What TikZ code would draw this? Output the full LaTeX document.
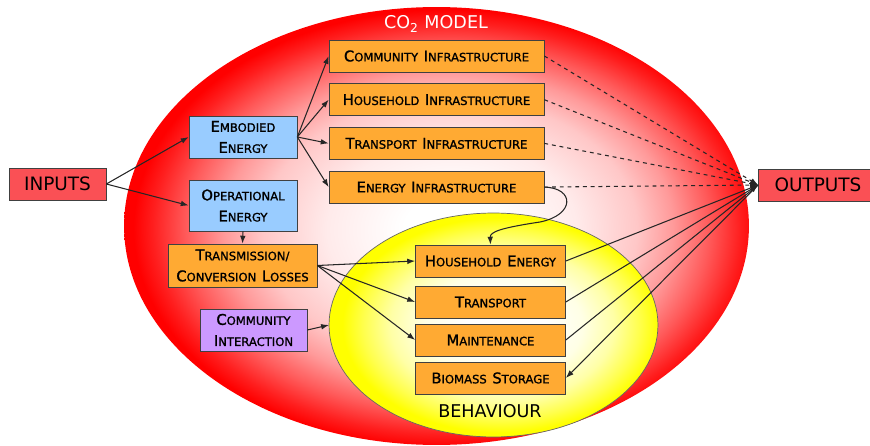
\documentclass[tikz,border=0pt]{standalone}
\usepackage{fontspec}
\setmainfont{DejaVu Sans}
\newfontfamily\boxfont{DejaVu Sans}[FakeBold=1.3]
\usetikzlibrary{shapes, arrows.meta, positioning}
\definecolor{boxorange}{RGB}{255,170,51}
\definecolor{boxblue}{RGB}{153,204,255}
\definecolor{boxpurple}{RGB}{204,153,255}
\definecolor{ioRed}{RGB}{250,80,85}
\newcommand{\scap}[2]{{\boxfont\fontsize{8.4}{9.6}\selectfont #1}{\boxfont\fontsize{6.6}{9.6}\selectfont #2}}
\pgfdeclareradialshading{redglow}{\pgfpoint{1.5bp}{-0.5bp}}{color(0bp)=(white); color(4bp)=(white); color(10bp)=(red!8!white); color(15bp)=(red!22!white); color(18bp)=(red!40!white); color(21bp)=(red!65!white); color(23.5bp)=(red!88!white); color(25bp)=(red); color(50bp)=(red)}
\pgfdeclareradialshading{yellowglow}{\pgfpoint{2bp}{0bp}}{color(0bp)=(white); color(6bp)=(white); color(12bp)=(yellow!10!white); color(17bp)=(yellow!35!white); color(21bp)=(yellow!70!white); color(24bp)=(yellow); color(50bp)=(yellow)}
\tikzstyle{orangebox} = [draw=black!75, fill=boxorange, rectangle, inner sep=0pt, minimum width=4.3cm, minimum height=0.64cm, align=center]
\tikzstyle{behavbox} = [orangebox, minimum width=3cm]
\tikzstyle{energybox} = [draw=black!75, fill=boxblue, rectangle, inner sep=0pt, minimum width=2.16cm, minimum height=0.84cm, align=center]
\tikzstyle{iobox} = [draw=black!75, fill=ioRed, rectangle, inner sep=0pt, minimum height=0.64cm, font=\fontsize{10.5}{12}\selectfont]
\tikzstyle{link} = [draw=black!85, line width=0.6pt, -{Latex[length=4.5pt,width=3.2pt]}]
\tikzstyle{outlink} = [link, dash pattern=on 2.2pt off 2.2pt]

\begin{document}
\begin{tikzpicture}[x=0.02cm, y=-0.02cm]
	\useasboundingbox (0,0) rectangle (870,446);
	\clip (0,0) rectangle (870,446);
	% model and behaviour areas
	\node[ellipse, shade, shading=redglow, outer sep=0pt, minimum width=12.5cm, minimum height=8.76cm] (model) at (436.5,226) {};
	\node[text=white, font=\fontsize{10}{12}\selectfont] (modeltitle) at (436,24) {CO\textsubscript{2} MODEL};
	\node[ellipse, draw=black!60, shade, shading=yellowglow, outer sep=0pt, minimum width=6.58cm, minimum height=4.48cm] (behav) at (493.5,325) {};
	\node[font=\fontsize{10}{12}\selectfont] (behavtitle) at (490,411) {BEHAVIOUR};

	\node[iobox, minimum width=1.94cm] (inputs) at (57.5,184) {INPUTS};
	\node[iobox, minimum width=2.38cm] (outputs) at (818,185) {OUTPUTS};

	\node[energybox] (embodied) at (243,137) {\scap{E}{MBODIED}\\\scap{E}{NERGY}};
	\node[energybox, minimum height=1.02cm] (operational) at (243,205.5) {\scap{O}{PERATIONAL}\\\scap{E}{NERGY}};
	\node[orangebox, minimum width=2.98cm, minimum height=0.86cm] (losses) at (242.5,265.5) {\scap{T}{RANSMISSION/}\\\scap{C}{ONVERSION} \scap{L}{OSSES}};
	\node[energybox, fill=boxpurple, minimum width=2.14cm] (interaction) at (253.5,330) {\scap{C}{OMMUNITY}\\\scap{I}{NTERACTION}};

	\node[orangebox] (cominfra) at (436.5,56) {\scap{C}{OMMUNITY} \scap{I}{NFRASTRUCTURE}};
	\node[orangebox, below=0.22cm of cominfra] (houseinfra) {\scap{H}{OUSEHOLD} \scap{I}{NFRASTRUCTURE}};
	\node[orangebox, below=0.22cm of houseinfra] (transinfra) {\scap{T}{RANSPORT} \scap{I}{NFRASTRUCTURE}};
	\node[orangebox, below=0.22cm of transinfra] (energyinfra) {\scap{E}{NERGY}\ \scap{I}{NFRASTRUCTURE}};

	\node[behavbox] (houseenergy) at (490.5,261) {\scap{H}{OUSEHOLD} \scap{E}{NERGY}};
	\node[behavbox] (transport) at (490.5,302) {\scap{T}{RANSPORT}};
	\node[behavbox] (maintenance) at (490.5,340) {\scap{M}{AINTENANCE}};
	\node[behavbox] (biomass) at (490.5,378) {\scap{B}{IOMASS} \scap{S}{TORAGE}};

	% inputs side
	\draw[link] (inputs.east) -- (embodied.west);
	\draw[link] (inputs.east) -- (operational.west);
	\foreach \infra in {cominfra, houseinfra, transinfra, energyinfra}
		\draw[link] (embodied.east) -- (\infra.west);
	\draw[link] (operational.south) -- (losses.north);
	\foreach \use in {houseenergy, transport, maintenance}
		\draw[link] (losses.east) -- (\use.west);
	\draw[link] (interaction.east) -- (behav.west);
	\draw[link] (energyinfra.east) .. controls (575,188) and (575,215) .. (540,222) .. controls (500,228) and (490,232) .. (houseenergy.north);

	% outputs side
	\foreach \infra in {cominfra, houseinfra, transinfra, energyinfra}
		\draw[outlink] (\infra.east) -- (outputs.west);
	\foreach \use in {houseenergy, transport, maintenance}
		\draw[link] (\use.east) -- (outputs.west);
	\draw[link] (outputs.west) -- (biomass.east);
\end{tikzpicture}
\end{document}
